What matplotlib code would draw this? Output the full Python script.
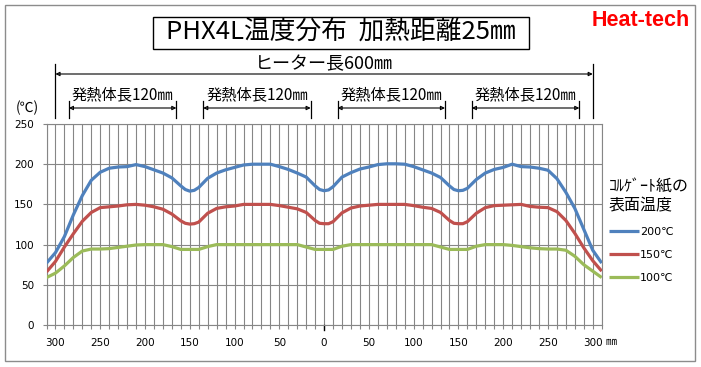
import matplotlib
matplotlib.use('Agg')
import matplotlib.pyplot as plt
from matplotlib.transforms import blended_transform_factory
from matplotlib.patches import Rectangle
from matplotlib.lines import Line2D

# ---------------- data ----------------
x_mm = [-310, -300, -290, -280, -270, -260, -250, -240, -230, -220, -210, -200, -190, -180, -170,
        -160, -155, -150, -145, -140, -130, -120, -110, -100, -90, -80, -70, -60, -50, -40, -30,
        -20, -10, -5, 0, 5, 10, 20, 30, 40, 50, 60, 70, 80, 90, 100, 110, 120, 130, 140, 145,
        150, 155, 160, 170, 180, 190, 200, 210, 220, 230, 240, 250, 260, 270, 280, 290, 300, 310]

temp_200 = [77, 90, 110, 137, 161, 180, 190, 195, 196.5, 197, 199.5, 197, 193, 189, 183,
            173, 168.5, 166.5, 167.5, 171, 182.5, 189, 193, 196, 199, 200, 200, 200, 197, 193.5, 189,
            184, 173, 168.5, 167, 168, 172, 184, 189.5, 194, 196.5, 199.5, 200.5, 200.5, 200, 197, 193, 189, 183.5, 173, 168.5,
            167, 167.5, 170, 181, 189, 193.5, 196, 200, 197, 196.5, 195, 192.5, 182, 165, 145, 119, 93, 77]

temp_150 = [66, 79, 97, 113.5, 129, 140, 146, 147, 148, 149.5, 150, 149, 147, 144, 138,
            129.5, 126.5, 125.5, 126, 128, 139, 145, 147, 148, 150, 150, 150, 150, 148.5, 146.5, 144.5,
            140, 130, 126.5, 126, 126, 128.5, 139.5, 145.5, 148, 149, 150, 150, 150, 150, 148.5, 146.5, 145, 140, 130, 126.5,
            126, 126, 128.5, 139, 146, 148.5, 149, 149.5, 150, 147.5, 146.5, 146, 141, 130, 114, 96, 80, 67]

temp_100 = [59, 64.5, 73.5, 84, 92, 94.5, 94.5, 95, 96.5, 98, 99.5, 100, 100, 100, 97.5,
            94, 94, 94, 94, 94, 97.5, 100, 100, 100, 100, 100, 100, 100, 100, 100, 100,
            97, 94, 94, 94, 94, 94, 98, 100, 100, 100, 100, 100, 100, 100, 100, 100, 100, 97, 94, 94,
            94, 94, 94, 98, 100, 100, 100, 99, 97.5, 96, 95, 94.5, 94.5, 93, 85.5, 75, 67, 59]

series_labels = ['200℃', '150℃', '100℃']
series_colors = ['#4F81BD', '#C0504D', '#9BBB59']

x_ticks = [-300, -250, -200, -150, -100, -50, 0, 50, 100, 150, 200, 250, 300]
x_ticklabels = ['300', '250', '200', '150', '100', '50', '0', '50', '100', '150', '200', '250', '300']
y_ticks = [0, 50, 100, 150, 200, 250]

title_text = 'PHX4L温度分布  加熱距離25㎜'
heater_text = 'ヒーター長600㎜'
element_text = '発熱体長120㎜'
element_spans = [(-285, -165), (-135, -15), (15, 135), (165, 285)]
heater_span = (-300, 300)
legend_title = 'ｺﾙｹﾞｰﾄ紙の\n表面温度'

# ---------------- figure ----------------
W, H = 701, 367
JP = ['Noto Sans CJK JP', 'DejaVu Sans']
GRID = '#868686'

fig = plt.figure(figsize=(W / 100, H / 100), dpi=100)
fig.patch.set_facecolor('white')

def fx(px):
    return px / W

def fy(py):
    return 1 - py / H

# outer border
fig.patches.append(Rectangle((fx(5), fy(361)), fx(695) - fx(5), fy(5) - fy(361),
                             transform=fig.transFigure, fill=False, edgecolor='#8c8c8c', lw=1.0))

ax = fig.add_axes([fx(46.5), fy(325), (601.7 - 46.5) / W, (325 - 124) / H])
ax.set_xlim(-310, 310)
ax.set_ylim(0, 250)

for y, lab, col in zip([temp_200, temp_150, temp_100], series_labels, series_colors):
    ax.plot(x_mm, y, color=col, lw=2.3, label=lab, solid_capstyle='butt', zorder=3)

ax.set_xticks(x_ticks)
ax.set_xticklabels(x_ticklabels)
ax.set_xticks(list(range(-310, 311, 10)), minor=True)
ax.set_yticks(y_ticks)
ax.grid(which='both', axis='x', color=GRID, lw=0.8)
ax.grid(which='major', axis='y', color=GRID, lw=0.8)
ax.set_axisbelow(True)
for s in ax.spines.values():
    s.set_color(GRID)
    s.set_linewidth(0.8)
ax.tick_params(axis='both', which='both', direction='out', length=3, color=GRID, width=0.8,
               labelsize=7.5, labelcolor='black')
ax.tick_params(axis='x', which='major', pad=6)
ax.tick_params(axis='y', which='major', pad=6)

# black tick at 0
ax.add_line(Line2D([0, 0], [0, -0.025], transform=blended_transform_factory(ax.transData, ax.transAxes),
                   color='black', lw=1.0, clip_on=False))

# unit labels
fig.text(fx(606), fy(342), '㎜', family=JP, fontsize=8, ha='left', va='center')
fig.text(fx(27), fy(108), '(℃)', family=JP, fontsize=10, ha='center', va='center')

# title box
fig.patches.append(Rectangle((fx(152.5), fy(48.5)), fx(528.5) - fx(152.5), fy(17) - fy(48.5),
                             transform=fig.transFigure, fill=True, facecolor='white',
                             edgecolor='black', lw=1.0))
fig.text(fx(340.5), fy(33), title_text, family=JP, fontsize=18.5, ha='center', va='center')

# brand
fig.text(fx(641), fy(20), 'Heat-tech', family=['Liberation Sans', 'DejaVu Sans'],
         fontweight='bold', fontsize=15.5, color='#FF0000', ha='center', va='center')

# dimension annotations
bt = blended_transform_factory(ax.transData, fig.transFigure)
arrow_kw = dict(arrowstyle='<|-|>', lw=0.8, color='black', shrinkA=0, shrinkB=0,
                mutation_scale=6, fill=False)

ax.annotate('', xy=(heater_span[0], fy(74)), xytext=(heater_span[1], fy(74)),
            xycoords=bt, textcoords=bt, arrowprops=arrow_kw, annotation_clip=False)
for xv in heater_span:
    ax.add_line(Line2D([xv, xv], [fy(64), fy(118)], transform=bt, color='black', lw=0.9, clip_on=False))
ax.text(0, fy(64), heater_text, transform=bt, family=JP, fontsize=13, ha='center', va='center')

for a, b in element_spans:
    ax.annotate('', xy=(a, fy(108)), xytext=(b, fy(108)), xycoords=bt, textcoords=bt,
                arrowprops=arrow_kw, annotation_clip=False)
    for xv in (a, b):
        ax.add_line(Line2D([xv, xv], [fy(101), fy(118)], transform=bt, color='black', lw=0.9, clip_on=False))
    ax.text((a + b) / 2, fy(95), element_text, transform=bt, family=JP, fontsize=11,
            ha='center', va='center')

# legend
leg = ax.legend(loc='upper left', bbox_to_anchor=(fx(609), fy(178)), bbox_transform=fig.transFigure,
                frameon=False, borderaxespad=0, borderpad=0, handlelength=2.7, handletextpad=0.1,
                labelspacing=1.15, prop={'family': JP, 'size': 8},
                title=legend_title, title_fontproperties={'family': JP, 'size': 11.5})
leg._legend_box.align = 'left'
for t in leg.get_texts():
    t.set_family(['DejaVu Sans', 'Noto Sans CJK JP'])

fig.savefig('out.png', dpi=100, facecolor='white')
